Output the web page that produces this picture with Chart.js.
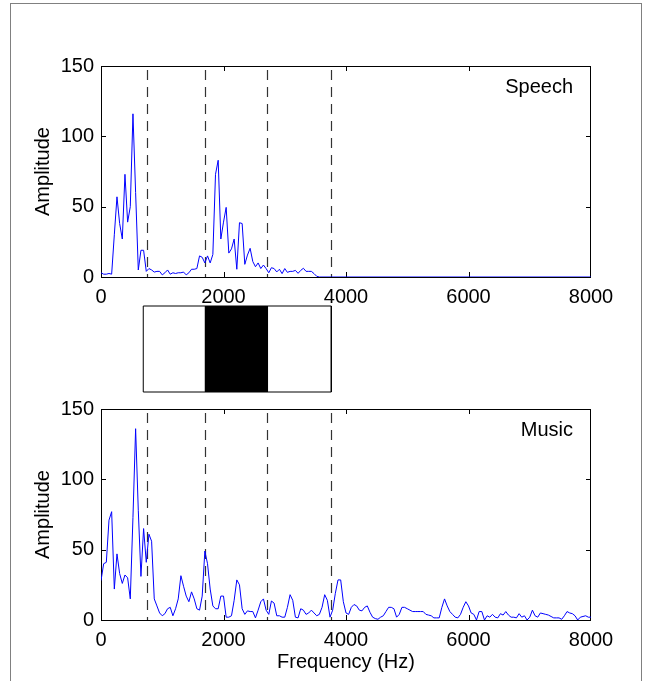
<!DOCTYPE html>
<html>
<head>
<meta charset="utf-8">
<script src="https://cdn.jsdelivr.net/npm/chart.js@4.4.1/dist/chart.umd.min.js"></script>
<style>
  html, body { margin: 0; padding: 0; background: #fff; }
  #page { position: relative; width: 652px; height: 681px; overflow: hidden; }
  #frame { position: absolute; left: 10px; top: 3px; width: 630px; height: 700px; border: 1px solid #808080; }
  canvas { position: absolute; left: 0; top: 0; }
</style>
</head>
<body>
<div id="page">
  <div id="frame"></div>
  <canvas id="speechChart" width="652" height="681"></canvas>
  <canvas id="bandChart" width="652" height="681"></canvas>
  <canvas id="musicChart" width="652" height="681"></canvas>
</div>
<script>
// Spectrum samples are on a uniform grid from 0 to 8000 Hz
const FREQ_STEP = 8000 / 184;

// Speech spectrum (flat at zero after the last value up to 8000 Hz)
const speechAmp = [
  3, 2, 2, 2.5, 2, 30, 57, 38, 27, 73,
  39, 50, 116, 60, 5, 19, 19, 4, 6, 5,
  3.5, 4, 4, 1.5, 3, 5, 2, 3, 2.5, 3,
  3, 3.5, 1.5, 3, 5.5, 5.5, 6, 15, 14, 10,
  15, 10, 16, 73, 83, 27, 39, 49.5, 17, 20,
  27, 5.5, 38.6, 38, 9, 15.6, 20.4, 11, 7.3, 10,
  6, 8.5, 6, 3, 6.6, 6, 3.6, 5.5, 2.4, 6,
  3.3, 4, 4, 4.7, 2.6, 4.7, 6.2, 4, 4, 4,
  2.4, 0.5, 0
];
const speechTail = [{ x: 8000, y: 0 }];

// Music spectrum
const musicAmp = [
  28, 40, 41, 71, 77, 22, 47, 33, 26, 32,
  30, 15, 73, 136, 78, 31, 65, 41, 61, 56,
  15, 10, 5, 3, 4.5, 8, 9, 3, 8, 15,
  31.5, 24, 17, 13, 20, 15, 8, 7, 17, 49,
  40, 22, 10, 8, 8, 17, 17, 2, 2, 3,
  14, 28.5, 25, 8, 4, 6.5, 6, 6, 1.5, 7,
  13, 15, 7, 4, 13.5, 12, 3, 3, 2, 2,
  9, 18, 14, 2, 1.5, 8, 7, 4, 5, 7,
  5, 3, 4, 9, 18, 14, 2, 7, 19, 28.5,
  28.5, 13, 5, 4, 9, 11, 10, 7, 6.5, 9,
  10, 5.5, 2, 1, 0.5, 2, 3, 6, 9, 9,
  8, 2, 4, 9, 9, 8, 7, 6, 6, 6,
  6, 6, 4, 3.5, 3, 1.5, 1.5, 1.5, 9, 15,
  10, 6, 4, 2, 1.5, 4, 9, 13, 10, 5,
  4, 0, 6, 6, 0, 3, 2, 4, 2, 1.5,
  4.5, 3.5, 6, 3.5, 2, 2, 1.5, 4.5, 2, 3,
  0, 2, 7, 3, 2, 5, 4.5, 4, 3.5, 2.5,
  1.5, 1.5, 1.5, 0.5, 3, 6, 5, 4.5, 3, 0,
  2, 2.5, 3, 2, 2
];

// Band edges (dashed lines) and the band selector box
const bandEdges = [750, 1690, 2710, 3755];
const boxRange = [690, 3760];
const activeBand = [1690, 2730];

const xTicks = [0, 2000, 4000, 6000, 8000];
const yTicks = [0, 50, 100, 150];

const FONT = { family: '"Liberation Sans", Arial, Helvetica, sans-serif', size: 20 };

function toPoints(values) {
  return values.map((v, i) => ({ x: i * FREQ_STEP, y: v }));
}

// Draws the MATLAB-style box, inward ticks, dashed band edges and the panel label
const axesBox = {
  id: 'axesBox',
  beforeDatasetsDraw(chart, args, opts) {
    const { ctx, chartArea: a, scales: { x, y } } = chart;
    ctx.save();
    ctx.strokeStyle = '#333';
    ctx.lineWidth = 1.2;
    ctx.setLineDash([10, 7]);
    bandEdges.forEach(f => {
      const px = Math.round(x.getPixelForValue(f)) + 0.5;
      ctx.beginPath();
      ctx.moveTo(px, a.top + 4);
      ctx.lineTo(px, a.bottom);
      ctx.stroke();
    });
    ctx.setLineDash([]);
    ctx.lineWidth = 1;
    ctx.strokeStyle = '#000';
    ctx.strokeRect(a.left + 0.5, a.top + 0.5, a.right - a.left - 1, a.bottom - a.top);
    const tl = 5;
    ctx.beginPath();
    xTicks.slice(1, -1).forEach(v => {
      const px = Math.round(x.getPixelForValue(v)) + 0.5;
      ctx.moveTo(px, a.bottom); ctx.lineTo(px, a.bottom - tl);
      ctx.moveTo(px, a.top); ctx.lineTo(px, a.top + tl);
    });
    yTicks.slice(1, -1).forEach(v => {
      const py = Math.round(y.getPixelForValue(v)) + 0.5;
      ctx.moveTo(a.left, py); ctx.lineTo(a.left + tl, py);
      ctx.moveTo(a.right, py); ctx.lineTo(a.right - tl, py);
    });
    ctx.stroke();
    ctx.restore();
  },
  afterDatasetsDraw(chart, args, opts) {
    if (!opts.label) return;
    const { ctx, chartArea: a } = chart;
    ctx.save();
    ctx.font = FONT.size + 'px ' + FONT.family;
    ctx.fillStyle = '#000';
    ctx.textAlign = 'right';
    ctx.textBaseline = 'middle';
    ctx.fillText(opts.label, a.right - 18, a.top + 21);
    ctx.restore();
  }
};

function spectrumChart(canvasId, data, label, padding, xAxisHeight, xTitle) {
  return new Chart(document.getElementById(canvasId), {
    type: 'line',
    data: {
      datasets: [{
        data: data,
        borderColor: '#0000ff',
        borderWidth: 1,
        pointRadius: 0,
        tension: 0,
        fill: false,
      }],
    },
    options: {
      responsive: false,
      animation: false,
      layout: { padding: padding },
      plugins: {
        legend: { display: false },
        tooltip: { enabled: false },
        axesBox: { label: label },
      },
      scales: {
        x: {
          type: 'linear',
          min: 0,
          max: 8000,
          afterBuildTicks: s => { s.ticks = xTicks.map(v => ({ value: v })); },
          afterFit: s => { s.height = xAxisHeight; },
          grid: { display: false, drawTicks: false },
          border: { display: false },
          ticks: { color: '#000', font: FONT, padding: 8, maxRotation: 0, callback: v => String(v) },
          title: {
            display: !!xTitle,
            text: xTitle || '',
            color: '#000',
            font: FONT,
            padding: { top: 0, bottom: 6 },
          },
        },
        y: {
          min: 0,
          max: 150,
          afterBuildTicks: s => { s.ticks = yTicks.map(v => ({ value: v })); },
          afterFit: s => { s.width = 101; },
          grid: { display: false, drawTicks: false },
          border: { display: false },
          ticks: { color: '#000', font: FONT, padding: 7, callback: v => String(v) },
          title: {
            display: true,
            text: 'Amplitude',
            color: '#000',
            font: FONT,
            padding: { top: 31, bottom: 0 },
          },
        },
      },
    },
    plugins: [axesBox],
  });
}

spectrumChart('speechChart', toPoints(speechAmp).concat(speechTail), 'Speech',
  { left: 0, right: 61, top: 66, bottom: 374 }, 30, null);

spectrumChart('musicChart', toPoints(musicAmp), 'Music',
  { left: 0, right: 61, top: 409, bottom: 1 }, 60, 'Frequency (Hz)');

// Band selector: outlined box with the active band filled black
new Chart(document.getElementById('bandChart'), {
  type: 'scatter',
  data: {
    datasets: [
      {
        data: [
          { x: boxRange[0], y: 0 }, { x: boxRange[0], y: 1 },
          { x: boxRange[1], y: 1 }, { x: boxRange[1], y: 0 },
          { x: boxRange[0], y: 0 },
        ],
        showLine: true,
        borderColor: '#000',
        borderWidth: 1,
        pointRadius: 0,
        fill: false,
        clip: false,
      },
      {
        data: [{ x: activeBand[0], y: 1 }, { x: activeBand[1], y: 1 }],
        showLine: true,
        borderWidth: 0,
        pointRadius: 0,
        backgroundColor: '#000',
        fill: 'origin',
        clip: false,
      },
    ],
  },
  options: {
    responsive: false,
    animation: false,
    layout: { padding: { left: 101, right: 61, top: 306, bottom: 289 } },
    plugins: { legend: { display: false }, tooltip: { enabled: false } },
    scales: {
      x: { type: 'linear', min: 0, max: 8000, display: false },
      y: { min: 0, max: 1, display: false },
    },
  },
});
</script>
</body>
</html>
